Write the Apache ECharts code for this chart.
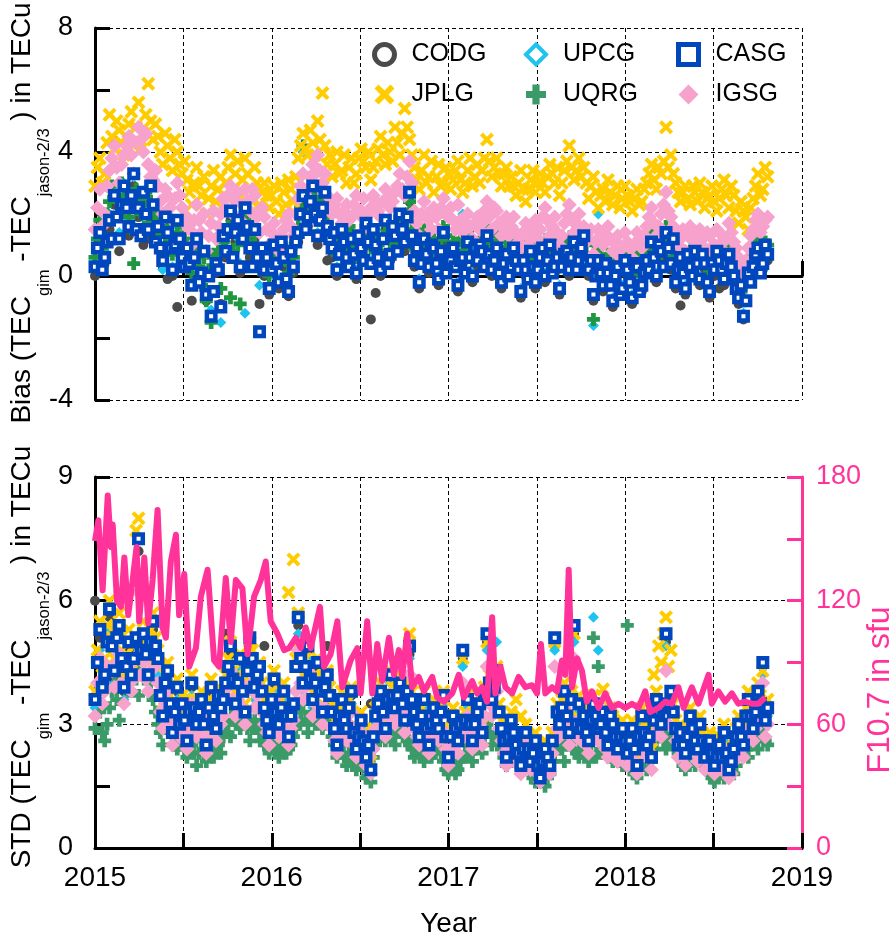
<!DOCTYPE html>
<html><head><meta charset="utf-8">
<script src="https://cdn.jsdelivr.net/npm/echarts/dist/echarts.min.js"></script>
<style>html,body{margin:0;padding:0;background:#fff}#c{width:896px;height:941px}</style>
</head><body><div id="c"></div><script>
// ---- sampling: values from 2015-01-01; dense series every 5 days, sparse ones every 10 days ----
const startYear = 2015;
const denseStepDays = 5;
const sparseStepDays = 10;

// ---- Top panel: Bias (TECu) ----
const biasCODG = [0.0,1.1,0.4,
 1.5,2.3,0.8,2.5,1.3,2.9,1.9,
 1.0,1.2,2.0,
 1.3,0.3,-0.1,0.0,-1.0,0.4,
 0.6,-0.8,0.9,-0.1,-0.8,-1.2,0.1,-0.9,
 0.6,1.8,1.1,0.1,1.9,0.6,1.2,
 -0.9,0.0,-0.6,0.7,-0.4,0.3,-0.65,0.1,
 1.1,2.3,1.6,2.6,1.0,1.9,0.5,
 0.6,0.0,1.2,0.4,0.9,-0.1,0.6,1.4,-1.4,
 -0.55,0.0,1.5,0.5,1.0,1.7,0.8,2.4,
 0.3,-0.4,0.9,0.1,0.6,-0.3,1.1,0.2,
 0.6,-0.5,0.4,0.8,-0.2,0.3,
 0.6,1.0,0.0,0.6,-0.4,0.5,0.1,
 0.3,-0.7,0.0,0.5,-0.4,
 0.4,-0.2,0.7,0.1,-0.6,0.5,0.0,0.8,0.3,1.0,
 0.0,-0.8,0.3,-0.5,-0.1,-1.0,0.1,-0.6,
 0.0,-0.9,0.1,-0.5,
 0.3,0.8,-0.2,0.6,1.1,0.2,-0.4,
 -0.95,-0.6,0.1,0.5,-0.3,0.2,-0.7,0.0,
 -0.4,-0.3,0.5,-0.2,
 -0.9,-1.4,-0.1,
 0.1,0.7,0.2,0.5];
const biasUPCG = [0.4,1.5,0.8,
 2.0,2.8,1.4,3.0,1.8,3.2,2.3,
 2.6,1.6,2.2,
 1.5,0.2,1.3,0.3,1.6,0.7,
 0.8,-0.2,1.1,0.2,-0.5,-1.1,0.5,-1.5,
 0.9,2.0,1.3,0.4,-1.2,1.0,1.4,
 -0.3,0.3,-0.3,0.9,-0.1,0.5,-0.4,0.4,
 1.5,4.0,1.8,2.8,1.4,2.1,1.7,
 1.0,0.3,1.4,0.7,1.1,0.2,1.0,1.6,0.5,
 1.1,0.3,1.7,0.8,1.4,1.9,1.2,2.6,
 0.6,-0.1,1.1,0.4,0.8,0.0,1.3,0.5,
 0.8,-0.2,2.0,1.0,0.1,0.6,
 0.9,1.2,0.3,0.8,-0.1,0.8,0.4,
 0.6,-0.4,0.3,0.7,-0.1,
 0.7,0.1,0.9,0.4,-0.3,0.8,0.3,1.0,0.6,1.2,
 0.3,-1.6,2.0,-0.2,0.2,-0.7,0.4,-0.3,
 0.3,-0.6,0.4,-0.2,
 0.6,1.0,0.1,0.9,1.3,0.5,-0.1,
 0.7,-0.3,0.4,0.7,0.0,0.5,-0.4,0.3,
 0.6,0.0,0.8,0.1,
 -0.6,-1.2,0.2,
 0.4,0.9,0.5,0.8];
const biasUQRG = [0.6,1.2,1.8,0.9,1.2,2.0,
 2.4,2.9,4.3,2.6,2.0,3.0,2.6,2.2,1.9,1.5,0.4,2.8,2.5,2.0,
 2.3,2.7,1.7,2.4,2.1,1.8,
 1.5,1.9,0.9,1.3,1.6,1.1,0.7,1.2,1.4,1.7,0.9,1.2,
 0.6,0.9,0.1,0.5,0.9,0.3,-0.3,0.6,-0.8,0.2,-1.5,0.7,0.3,0.8,-0.4,1.1,
 0.9,1.6,-0.7,0.8,1.4,1.0,-0.9,1.2,1.8,1.4,1.0,1.6,1.3,0.7,
 0.2,0.5,0.8,0.4,0.0,0.7,1.1,0.6,0.4,1.0,0.9,0.5,0.1,0.9,0.6,1.2,
 1.6,2.2,4.2,1.9,2.1,2.6,2.5,2.0,1.8,2.4,2.3,1.9,1.7,1.4,
 1.2,0.9,0.7,1.1,1.5,1.2,1.0,1.6,1.4,1.0,0.6,1.0,1.2,1.4,1.6,1.2,0.9,1.5,
 1.3,1.0,0.8,1.3,1.7,1.4,1.1,1.6,1.5,1.2,1.9,1.6,1.4,2.0,2.4,1.5,
 0.9,1.2,0.5,1.0,1.5,1.1,0.8,1.0,1.2,0.9,0.6,1.2,1.6,1.3,0.9,0.7,
 1.1,0.8,0.6,1.2,1.0,0.8,1.4,1.0,0.5,0.7,0.9,1.1,
 1.2,1.0,1.6,1.1,0.7,1.0,1.3,0.9,0.5,0.8,1.1,0.6,0.8,1.0,
 0.8,0.5,0.2,0.9,0.7,0.5,1.1,0.7,0.4,0.8,
 1.0,0.8,0.5,1.1,1.3,0.6,0.8,1.0,0.3,0.7,1.1,0.6,0.9,1.2,1.4,1.1,1.0,1.3,1.5,1.0,
 0.6,0.4,-1.4,0.6,0.9,0.6,0.3,0.5,0.7,0.4,0.0,0.5,0.8,0.5,0.2,0.7,
 0.6,0.3,0.0,0.5,0.8,0.6,0.3,0.7,
 1.0,1.2,1.5,0.9,0.6,1.0,1.2,1.4,1.6,1.2,0.9,0.6,0.4,0.7,
 0.9,0.5,0.2,0.6,0.8,0.5,1.1,0.8,0.4,0.6,0.8,0.4,0.1,0.5,0.6,0.8,
 0.9,0.6,0.3,0.7,1.0,0.6,0.4,0.1,
 -0.2,-0.5,-0.8,0.0,0.4,0.5,
 0.7,1.0,1.2,0.6,0.8,1.1,1.0];
const biasJPLG = [2.9,3.5,3.8,3.0,3.3,4.3,
 5.2,4.5,4.1,5.0,4.7,4.3,3.9,4.5,
 4.9,5.3,4.2,4.8,5.6,4.1,4.6,5.2,6.2,5.0,4.4,4.9,
 4.5,4.0,3.6,4.6,4.2,3.8,3.4,4.4,4.0,3.6,3.3,3.7,
 3.1,2.7,2.3,3.0,3.5,2.9,2.6,3.2,2.0,2.5,2.9,3.4,2.4,2.8,3.2,2.6,
 3.0,3.5,3.9,2.8,3.3,3.7,2.5,3.1,3.8,3.3,2.8,2.4,3.5,3.0,2.3,2.7,3.0,2.6,
 2.2,2.6,2.9,2.4,2.0,3.0,2.7,2.3,3.1,2.8,2.4,3.2,
 3.8,4.2,4.6,4.1,3.9,4.7,4.3,3.9,5.0,4.4,5.9,4.2,3.6,3.9,
 3.2,3.6,4.0,3.3,3.4,3.9,3.0,3.5,3.8,3.0,3.3,3.8,4.1,3.7,3.5,4.0,3.1,3.5,
 3.7,4.1,4.5,3.9,3.6,4.3,4.0,3.7,4.8,4.3,3.9,4.6,5.4,4.8,4.4,3.9,
 3.5,3.1,2.8,3.4,3.9,3.0,3.2,3.7,2.7,3.2,3.6,2.9,3.0,3.5,3.3,2.8,
 3.1,3.4,3.7,3.1,2.7,3.0,3.4,3.8,2.9,3.2,3.6,3.0,
 3.4,3.8,4.4,3.7,3.2,3.5,3.8,3.3,2.9,3.3,3.5,2.9,3.2,2.9,
 2.6,3.0,3.4,2.8,2.4,2.8,3.1,3.4,2.7,3.0,
 3.3,3.0,2.7,3.2,3.6,3.3,3.0,3.5,2.6,3.0,3.4,3.7,4.2,3.5,3.1,3.4,3.8,3.2,3.5,3.0,
 2.5,2.9,3.2,2.7,2.2,2.6,2.8,2.4,3.1,2.7,2.3,2.6,2.9,2.2,2.5,2.9,
 2.6,2.4,2.1,2.5,2.8,2.3,2.4,2.8,
 3.0,3.3,3.6,3.1,2.8,3.5,3.3,3.7,4.8,3.5,3.9,3.3,3.0,2.7,
 2.4,2.7,2.9,2.5,2.3,2.9,2.7,2.4,3.0,2.7,2.2,2.5,2.6,2.9,2.4,2.1,
 2.5,2.8,3.1,2.6,2.2,2.9,2.6,2.1,
 1.7,2.4,2.1,1.9,1.5,2.2,
 2.5,2.9,3.3,2.6,2.8,3.5,3.2];
const biasIGSG = [1.5,2.2,2.8,1.6,2.0,2.9,
 3.4,3.8,4.2,3.5,3.0,3.6,3.9,4.2,4.5,3.9,3.3,4.3,4.8,4.4,4.0,4.6,3.6,3.2,3.1,3.4,
 2.9,2.4,2.0,2.8,2.6,2.2,1.8,2.5,3.0,2.6,2.2,1.7,
 1.9,1.5,1.0,1.8,2.3,1.8,1.4,2.0,0.8,1.3,1.7,2.1,1.2,1.6,2.0,2.5,
 2.2,2.6,2.9,2.0,2.4,2.7,1.8,2.3,2.8,2.4,2.1,2.8,2.6,1.9,1.4,2.2,1.9,1.5,
 1.0,1.4,1.7,1.2,0.8,1.3,1.5,1.8,2.0,1.6,1.3,2.0,
 2.5,2.9,3.3,2.6,2.8,3.2,3.6,3.3,3.9,3.4,3.0,3.3,2.6,2.3,
 2.0,2.3,2.5,2.0,1.7,2.1,2.3,1.8,1.9,2.3,2.6,2.0,2.1,2.5,1.6,2.0,2.2,2.6,
 2.4,2.1,1.9,2.4,2.8,2.5,2.2,2.4,2.7,2.9,3.3,2.8,2.6,3.2,3.7,3.0,
 2.1,1.7,1.3,2.0,2.4,2.0,1.8,1.5,2.2,1.9,1.5,2.2,2.5,2.0,1.9,2.2,
 1.8,1.5,2.3,1.8,1.4,1.7,2.0,1.6,1.2,1.7,1.9,1.5,
 1.7,2.1,2.4,1.9,1.5,2.2,2.1,1.7,1.3,1.6,1.9,1.3,1.6,1.9,
 1.4,1.1,0.9,1.4,1.7,1.0,1.2,1.5,1.8,1.2,
 1.5,1.9,2.2,1.8,1.3,1.6,1.9,1.4,1.0,1.3,1.7,2.0,2.3,1.8,1.4,1.7,2.0,1.3,1.6,1.1,
 1.2,1.5,0.7,1.1,1.5,1.3,1.0,1.3,1.6,1.2,0.8,1.1,1.3,0.6,0.9,1.4,
 1.1,0.9,0.6,1.0,1.4,1.2,0.9,1.3,
 1.6,1.9,2.2,1.7,1.3,1.6,2.0,2.3,2.7,2.1,1.9,1.6,1.4,1.0,
 1.2,1.5,0.8,1.3,1.6,1.2,1.1,1.4,1.5,1.2,0.9,1.4,1.3,0.8,1.0,1.5,
 1.4,1.1,0.8,1.2,1.7,1.4,1.1,0.9,
 0.6,0.4,0.1,0.5,0.9,1.3,
 1.5,1.8,2.0,1.4,1.6,1.8,1.9];
const biasCASG = [0.3,0.9,1.4,0.2,0.6,1.1,
 1.8,1.2,2.6,1.9,1.2,2.3,2.9,2.2,1.6,2.6,3.3,1.5,2.2,1.3,
 2.7,2.0,1.5,2.9,2.3,1.1,
 1.6,0.9,0.5,1.9,1.4,0.9,0.2,1.0,1.8,1.2,0.6,0.3,
 0.9,0.4,-0.3,0.6,1.2,-0.2,0.1,0.8,-0.6,0.0,-1.3,-0.5,0.4,0.2,-1.0,1.3,
 0.8,1.5,2.1,0.6,1.4,1.8,0.3,1.2,2.2,1.6,0.9,0.3,1.5,0.6,
 -1.8,0.9,0.2,0.6,-0.4,0.2,1.0,0.4,-0.2,1.1,0.6,-0.1,-0.5,0.8,0.3,1.1,
 1.4,2.0,2.6,1.5,1.9,2.4,2.9,2.0,1.3,1.8,2.2,2.7,1.6,1.2,
 0.9,1.4,0.2,0.7,1.5,1.1,0.6,0.3,1.2,0.7,0.1,1.3,0.9,0.5,1.7,1.1,0.4,1.5,
 1.0,0.6,0.2,1.2,1.8,0.4,0.7,1.6,1.3,0.8,2.0,1.5,1.1,1.9,2.7,1.3,
 0.5,0.9,-0.2,0.4,1.2,0.7,0.3,1.0,0.9,0.4,-0.1,0.8,1.4,0.1,0.4,0.5,
 0.9,0.3,-0.3,0.5,0.6,0.1,1.1,0.6,0.0,0.9,0.5,1.0,
 0.8,0.3,1.3,0.7,0.2,0.5,0.9,0.1,-0.2,0.4,0.7,0.0,0.3,0.9,
 0.5,0.2,-0.5,0.5,0.2,-0.1,0.8,0.3,-0.2,0.2,
 0.6,0.9,0.0,0.5,1.0,0.1,0.3,0.6,-0.4,0.3,0.7,0.8,0.2,0.6,1.1,0.2,0.5,0.9,1.3,0.4,
 0.2,0.5,-0.6,0.0,0.5,0.1,-0.3,0.4,0.1,-0.3,-0.8,0.0,0.3,-0.6,-0.4,0.5,
 0.2,-0.2,-0.7,0.4,0.3,-0.5,-0.3,0.1,
 0.5,0.2,1.1,0.6,0.0,1.0,0.8,0.3,1.4,0.9,0.4,1.2,-0.2,0.2,
 0.6,0.1,-0.4,0.7,0.3,0.0,0.8,0.4,-0.1,0.7,0.4,-0.2,-0.5,0.4,0.2,0.8,
 0.5,0.2,-0.1,0.4,0.7,0.3,0.0,-0.4,
 -0.7,-0.3,-1.3,-0.8,0.1,-0.2,
 0.3,0.7,0.9,0.1,0.4,1.0,0.7];

// ---- Bottom panel: STD (TECu) ----
const stdCODG = [6.0,5.1,4.0,
 5.6,4.1,5.2,3.8,4.8,
 4.5,7.2,5.0,4.1,5.3,
 4.4,3.1,4.1,2.8,3.8,
 3.4,2.6,3.9,2.9,3.5,2.5,3.8,2.8,3.3,
 5.2,4.7,3.4,4.5,3.2,4.9,3.8,4.3,
 4.9,2.8,4.0,2.9,3.7,2.7,3.4,
 5.4,3.9,4.8,3.5,4.4,3.2,4.9,
 3.2,2.5,3.5,2.8,3.7,2.4,3.0,2.2,3.5,
 3.1,3.7,2.9,4.1,3.3,3.9,3.0,
 4.7,3.2,2.7,3.5,2.5,3.3,2.9,3.6,
 2.2,3.1,2.6,4.6,
 3.5,2.6,3.2,2.8,
 5.0,3.5,4.2,
 2.9,2.2,3.0,2.5,2.0,2.7,
 2.1,2.5,1.7,2.4,2.0,
 4.9,3.0,3.7,2.8,5.2,3.4,
 3.1,2.6,3.4,2.9,3.2,2.5,2.9,2.4,2.8,
 2.3,2.8,2.0,3.1,2.5,2.2,
 3.5,3.0,5.0,3.7,2.8,
 2.7,2.3,3.1,2.6,2.9,2.2,
 2.5,2.0,2.5,2.7,1.9,2.4,
 3.0,2.5,3.5,2.9,3.7,4.4,3.3];
const stdUPCG = [3.4,4.8,4.4,
 5.3,4.0,5.1,3.6,4.6,
 4.3,6.5,4.8,4.0,5.0,
 4.2,3.0,4.0,2.7,3.6,
 3.2,2.5,3.7,2.8,3.4,2.4,3.6,2.8,3.2,
 3.8,4.5,3.3,4.3,3.1,4.7,3.6,4.1,
 3.2,2.7,3.8,2.8,3.6,2.6,3.3,
 5.2,3.8,4.6,3.4,4.2,3.1,4.0,
 3.1,2.4,3.4,2.7,3.5,2.3,2.9,2.1,1.8,
 3.0,3.6,2.8,4.0,3.2,3.8,2.9,
 4.6,3.1,2.6,3.4,2.4,3.2,2.8,3.5,
 2.1,3.0,2.5,4.4,
 3.4,2.5,3.1,2.7,
 4.8,3.4,5.0,
 2.8,2.1,2.9,2.4,1.9,2.6,
 2.0,2.5,1.6,2.3,1.9,
 4.8,2.9,3.6,2.7,5.0,3.3,
 3.0,2.5,5.6,4.8,3.1,2.4,2.8,2.3,2.7,
 2.2,2.7,1.9,3.0,2.4,2.1,
 3.4,2.9,4.9,3.6,2.7,
 2.6,2.2,3.0,2.5,2.8,2.1,
 2.5,1.9,2.4,2.6,1.8,2.3,
 2.8,2.4,3.4,2.8,3.6,4.2,3.2];
const stdUQRG = [2.9,3.6,3.3,2.8,2.6,3.0,
 3.4,3.8,4.2,3.6,3.1,4.0,4.5,4.1,3.8,4.2,
 4.4,4.1,3.7,4.3,4.6,4.2,4.0,3.8,3.6,3.3,
 3.0,2.8,2.5,2.9,3.2,2.9,2.7,2.5,2.4,2.9,
 2.7,2.4,2.2,2.5,2.5,2.3,2.0,2.3,2.6,2.3,2.1,2.6,2.4,2.2,2.7,2.5,2.3,2.7,
 3.0,2.8,2.7,3.1,3.3,3.0,2.9,3.0,3.2,2.9,2.6,2.9,3.1,2.9,2.8,2.6,
 2.5,2.6,2.3,2.5,2.7,2.4,2.2,2.5,2.6,2.3,2.4,2.5,2.7,2.9,
 3.0,3.3,3.5,3.1,2.8,3.1,3.3,3.0,3.1,3.2,2.9,3.1,3.4,3.0,
 2.7,2.5,2.2,2.4,2.5,2.2,2.0,2.3,2.6,2.1,1.9,2.1,2.3,1.9,1.7,1.9,1.6,2.2,
 2.5,2.7,3.0,2.8,2.6,2.7,2.9,2.7,2.5,2.8,3.1,2.9,2.7,2.6,
 2.5,2.4,2.2,2.4,2.6,2.3,2.1,2.3,2.4,2.2,2.3,2.4,2.5,2.3,2.1,1.9,
 1.8,2.0,2.1,1.8,1.9,2.1,2.2,2.3,
 2.5,2.3,2.1,2.4,2.6,2.5,2.3,2.7,
 3.0,2.8,2.5,2.7,2.8,2.6,
 2.4,2.2,2.0,2.2,2.3,2.2,2.1,2.3,2.5,2.3,2.2,2.0,
 1.9,1.7,1.6,1.8,2.0,1.7,1.5,1.7,1.8,2.1,
 2.3,2.5,2.6,2.4,2.1,2.5,2.7,2.6,2.4,2.3,2.2,2.3,
 2.5,2.3,2.1,2.3,5.1,2.2,4.4,2.4,2.3,2.4,2.6,2.3,2.1,2.3,2.4,2.2,2.0,2.1,
 5.4,1.9,2.0,1.8,1.7,1.9,2.2,2.0,1.9,2.2,2.1,2.4,
 2.6,2.8,2.9,2.6,2.4,2.6,2.8,2.7,2.5,2.3,
 2.2,2.0,1.9,2.2,2.4,2.2,2.0,2.1,2.3,2.0,2.1,1.9,
 1.9,1.7,1.6,1.8,2.0,1.8,1.7,1.9,2.1,1.9,1.8,2.0,
 2.3,2.5,2.6,2.4,2.2,2.5,2.7,2.6,2.4,2.7,2.9,2.6,2.5];
const stdJPLG = [3.8,4.8,5.5,4.2,4.6,5.4,
 6.0,5.1,4.6,5.3,5.7,4.8,4.2,4.7,5.3,4.5,
 4.9,7.7,8.0,5.1,5.5,4.9,4.5,5.3,5.7,5.1,
 4.8,3.9,3.5,4.2,4.5,3.7,3.1,3.5,4.1,3.3,
 3.7,3.3,2.9,3.6,4.2,3.6,3.2,3.5,3.8,3.2,2.8,3.6,4.1,3.4,3.1,3.9,3.6,3.8,
 4.2,4.6,5.0,4.3,3.8,4.2,4.7,4.0,3.5,4.5,5.0,4.8,4.1,4.4,4.5,4.0,
 3.6,3.3,3.0,3.8,4.3,3.5,3.2,3.6,4.0,3.4,6.2,3.4,7.0,4.6,
 5.7,4.8,4.2,4.6,5.0,4.3,3.8,4.2,4.6,4.0,3.5,4.1,4.3,3.9,
 3.5,3.1,2.7,3.4,3.8,3.3,3.1,3.6,3.9,3.0,2.6,2.9,3.3,2.8,2.4,2.7,2.1,2.9,
 3.4,3.7,4.0,3.5,3.1,3.8,4.3,3.9,3.6,3.9,4.2,3.7,3.3,4.0,
 5.2,3.8,3.5,3.2,2.9,3.4,3.8,3.1,2.7,3.2,3.6,3.3,3.1,3.5,3.8,2.9,
 2.4,2.9,3.4,3.1,2.8,3.2,4.6,3.3,
 3.7,3.2,2.8,3.2,3.5,3.7,3.0,3.9,
 5.0,4.2,3.8,4.1,4.4,3.5,
 3.1,2.8,2.4,2.9,3.3,3.0,3.6,2.5,3.2,2.6,3.0,2.6,
 2.3,2.5,2.8,2.2,1.9,2.3,2.6,2.4,2.2,2.8,
 5.0,3.5,3.2,3.6,4.0,3.4,3.0,3.8,5.2,3.2,3.7,3.1,
 3.4,3.0,2.8,3.3,3.7,3.4,3.1,3.2,3.85,3.0,2.7,3.4,3.2,2.9,2.6,2.9,3.1,2.8,
 2.5,2.8,3.1,2.6,2.2,2.9,3.4,3.0,2.7,2.9,2.4,4.2,
 3.8,4.9,4.5,5.2,5.6,4.4,4.8,3.5,3.1,2.7,
 3.0,2.7,2.5,2.9,3.4,3.1,2.8,2.6,3.2,2.8,2.4,2.7,
 2.8,2.5,2.2,2.4,2.7,2.4,3.0,2.5,2.1,2.3,2.6,2.9,
 3.2,2.9,2.7,3.4,3.8,3.4,3.1,3.5,4.0,3.7,4.3,3.3,3.6];
const stdIGSG = [3.2,4.0,4.6,3.5,3.8,4.4,
 5.0,4.3,3.9,4.5,4.7,4.0,3.5,3.9,4.4,3.8,
 4.1,4.6,6.2,4.2,4.5,4.1,3.8,4.3,4.7,4.4,
 4.0,3.3,2.9,3.5,3.8,3.0,2.5,3.0,3.4,2.7,
 3.1,2.8,2.4,2.9,3.5,3.0,2.7,2.9,3.2,2.7,2.3,3.0,3.4,2.8,2.6,3.2,3.0,3.2,
 3.6,3.9,4.3,3.6,3.2,3.6,4.0,3.4,3.0,3.8,4.4,4.0,3.4,3.7,3.9,3.3,
 3.0,2.8,2.5,3.1,3.6,2.9,2.7,3.0,3.3,2.8,2.5,2.9,3.1,3.8,
 4.8,4.0,3.6,3.9,4.3,3.6,3.2,3.5,4.0,3.4,3.0,3.4,3.7,3.3,
 2.9,2.6,2.3,2.8,3.2,2.7,2.6,3.0,3.3,2.5,2.2,2.4,2.8,2.3,2.0,2.2,1.8,2.4,
 2.9,3.1,3.4,2.9,2.7,3.2,3.7,3.2,3.0,3.2,3.5,3.1,2.8,3.3,
 4.2,3.2,2.9,2.7,2.5,2.8,3.2,2.6,2.3,2.6,3.0,2.7,2.6,2.9,3.3,2.4,
 2.0,2.4,2.8,2.5,2.3,2.6,4.0,2.8,
 3.2,2.7,2.4,2.7,2.9,3.0,2.5,3.2,
 4.4,3.5,3.2,3.4,3.8,2.9,
 2.6,2.3,2.0,2.4,2.7,2.4,2.2,2.0,1.8,2.1,2.5,2.1,
 1.9,2.0,2.3,1.8,1.6,1.9,2.1,1.9,1.8,2.3,
 4.4,2.9,2.7,3.0,3.4,2.8,2.5,3.1,4.6,2.7,3.1,2.6,
 2.8,2.5,2.3,2.7,3.1,2.8,2.6,2.6,2.9,2.4,2.2,2.7,2.6,2.3,2.1,2.4,2.5,2.3,
 2.0,2.3,2.6,2.1,1.8,2.4,2.8,2.4,2.2,2.3,1.9,2.7,
 3.2,2.9,2.7,3.0,4.3,3.0,3.4,2.9,2.6,2.2,
 2.4,2.2,2.0,2.4,2.8,2.5,2.3,2.1,2.6,2.3,1.9,2.2,
 2.2,2.0,1.8,1.9,2.2,1.9,2.4,2.0,1.7,1.8,2.1,2.4,
 2.6,2.4,2.2,2.8,3.2,2.8,2.6,2.9,3.4,3.1,4.0,2.7,3.0];
const stdCASG = [3.6,4.5,5.3,3.9,4.2,5.0,
 5.8,4.9,4.3,5.1,5.4,4.6,3.9,4.4,5.0,4.2,
 4.6,5.1,7.5,4.8,5.2,4.7,4.2,5.0,5.5,4.9,
 4.6,3.7,3.2,4.0,4.3,3.5,2.8,3.3,3.9,3.0,
 3.5,3.1,2.6,3.3,4.0,3.4,3.0,3.3,3.6,3.0,2.5,3.4,3.9,3.2,2.9,3.7,3.4,3.6,
 4.0,4.4,4.9,4.1,3.5,4.0,4.6,3.8,3.3,4.3,5.1,4.6,3.9,4.2,4.4,3.8,
 3.4,3.1,2.8,3.6,4.1,3.3,3.0,3.4,3.8,3.2,2.7,3.2,3.5,4.4,
 5.6,4.6,4.0,4.4,4.9,4.1,3.6,4.0,4.5,3.8,3.3,3.9,4.2,3.7,
 3.3,2.9,2.5,3.2,3.6,3.1,2.9,3.4,3.8,2.8,2.4,2.7,3.1,2.6,2.2,2.5,1.9,2.7,
 3.2,3.5,3.8,3.3,2.9,3.6,4.2,3.7,3.4,3.7,4.0,3.5,3.1,3.8,
 4.9,3.6,3.3,3.0,2.7,3.2,3.6,2.9,2.5,3.0,3.4,3.1,2.9,3.3,3.7,2.7,
 2.2,2.7,3.2,2.9,2.6,3.0,4.8,3.1,
 3.6,3.0,2.6,3.0,3.3,3.5,2.8,3.7,
 5.2,4.0,3.6,3.9,4.3,3.3,
 2.9,2.6,2.2,2.7,3.1,2.8,2.5,2.3,2.0,2.4,2.8,2.4,
 2.1,2.3,2.6,2.0,1.7,2.1,2.4,2.2,2.0,2.6,
 5.1,3.3,3.0,3.4,3.8,3.2,2.8,3.6,5.4,3.0,3.5,2.9,
 3.2,2.8,2.6,3.1,3.5,3.2,2.9,3.0,3.3,2.8,2.5,3.2,3.0,2.7,2.4,2.7,2.9,2.6,
 2.3,2.6,2.9,2.4,2.0,2.7,3.2,2.8,2.5,2.7,2.2,3.1,
 3.6,3.3,3.0,3.4,5.2,3.5,3.8,3.3,2.9,2.5,
 2.8,2.5,2.3,2.7,3.2,2.9,2.6,2.4,3.0,2.6,2.2,2.5,
 2.6,2.3,2.0,2.2,2.5,2.2,2.8,2.3,1.9,2.1,2.4,2.7,
 3.0,2.7,2.5,3.2,3.6,3.2,2.9,3.3,3.8,3.5,4.5,3.1,3.4];

// ---- F10.7 (sfu) ----
const f107Years = [2015.000,2015.019,2015.043,2015.072,2015.090,2015.100,2015.124,2015.147,2015.166,2015.188,
 2015.213,2015.235,2015.250,2015.279,2015.301,2015.326,2015.354,2015.382,2015.401,2015.429,
 2015.458,2015.476,2015.505,2015.533,2015.571,2015.599,2015.637,2015.674,2015.702,2015.740,
 2015.768,2015.797,2015.834,2015.863,2015.900,2015.938,2015.966,2015.994,2016.032,2016.070,
 2016.098,2016.136,2016.164,2016.192,2016.220,2016.273,2016.296,2016.333,2016.371,2016.399,
 2016.446,2016.484,2016.503,2016.540,2016.569,2016.597,2016.625,2016.663,2016.691,2016.719,
 2016.738,2016.766,2016.795,2016.832,2016.861,2016.908,2016.936,2016.974,
 2017.021,2017.058,2017.087,2017.134,2017.162,2017.190,2017.218,2017.247,2017.265,2017.294,
 2017.322,2017.360,2017.397,2017.435,2017.473,2017.501,2017.523,2017.548,2017.586,2017.614,
 2017.642,2017.661,2017.680,2017.699,2017.727,2017.755,2017.783,2017.812,2017.849,2017.887,
 2017.925,2017.962,2018.000,2018.038,2018.075,2018.113,2018.141,2018.188,2018.226,2018.264,
 2018.301,2018.330,2018.377,2018.414,2018.471,2018.490,2018.527,2018.565,2018.603,2018.640,
 2018.678,2018.716,2018.753,2018.791];
const f107Values = [149,159,125,171,146,157,120,117,141,113,
 130,146,110,141,109,130,164,107,102,139,
 152,113,133,88,97,122,135,91,88,131,
 100,130,126,94,122,130,139,110,104,96,
 97,102,97,107,97,117,88,94,110,78,
 91,97,75,110,75,99,81,102,84,96,
 83,104,78,83,76,83,73,71,
 75,84,73,81,75,78,71,112,75,88,
 78,75,83,78,79,75,99,75,78,76,
 91,84,135,78,92,86,71,76,68,75,
 68,70,68,70,68,76,66,68,71,70,
 78,68,78,70,84,70,76,71,75,70,
 71,70,70,73];

// ---- axis ticks / labels / names ----
const yearTicks = [2015, 2016, 2017, 2018, 2019];
const seriesNames = ['CODG','UPCG','UQRG','JPLG','IGSG','CASG'];
const sparseSeries = ['CODG','UPCG'];

const FONT = '"Liberation Sans", Arial, sans-serif';
const xPath = 'path://M0,2 L2,0 L5,3 L8,0 L10,2 L7,5 L10,8 L8,10 L5,7 L2,10 L0,8 L3,5 Z';
const plusPath = 'path://M3.2,0 H6.8 V3.2 H10 V6.8 H6.8 V10 H3.2 V6.8 H0 V3.2 H3.2 Z';
const PINK_LINE = '#ff3399';

const marker = {
  CODG: {symbol:'circle', size:10, itemStyle:{color:'#4a4a4a', opacity:1}},
  UPCG: {symbol:'diamond', size:11, itemStyle:{color:'#1ec3ef', opacity:1}},
  UQRG: {symbol:plusPath, size:13, itemStyle:{color:'#259a4e', opacity:1}},
  JPLG: {symbol:xPath, size:14, itemStyle:{color:'#ffcc00', opacity:1}},
  IGSG: {symbol:'diamond', size:15, itemStyle:{color:'#f7a1cd', opacity:1}},
  CASG: {symbol:'rect', size:8.5, itemStyle:{color:'#ffffff', borderColor:'#0046bd', borderWidth:4.5, opacity:1}}
};
const topData = {CODG:biasCODG, UPCG:biasUPCG, UQRG:biasUQRG, JPLG:biasJPLG, IGSG:biasIGSG, CASG:biasCASG};
const botData = {CODG:stdCODG, UPCG:stdUPCG, UQRG:stdUQRG, JPLG:stdJPLG, IGSG:stdIGSG, CASG:stdCASG};

function pairs(vals, step){ return vals.map((v,i)=>[startYear + i*step/365.25, v]); }

const series = [];
[[0, topData, '#1f9640'], [1, botData, '#3b9b68']].forEach(([gi, dataSet, green]) => {
  seriesNames.forEach(n => {
    const m = marker[n];
    const step = sparseSeries.indexOf(n) >= 0 ? sparseStepDays : denseStepDays;
    series.push({name:n, type:'scatter', xAxisIndex:gi, yAxisIndex:gi, symbol:m.symbol, symbolSize:m.size,
      itemStyle:Object.assign({}, m.itemStyle, n==='UQRG'?{color:green}:{}),
      emphasis:{disabled:true}, data:pairs(dataSet[n], step), silent:true});
  });
});
series.push({name:'F10.7', type:'line', xAxisIndex:1, yAxisIndex:2, showSymbol:false, z:10,
  lineStyle:{color:PINK_LINE, width:6, join:'round'}, emphasis:{disabled:true},
  data:f107Years.map((y,i)=>[y, f107Values[i]]), silent:true});

function xAxisCfg(grid, showLabels){
  return {
    gridIndex:grid, type:'value', min:2015, max:2019, interval:0.5,
    axisLine:{lineStyle:{color:'#000', width:3}},
    axisTick:{inside:true, length:15, lineStyle:{color:'#000', width:3}},
    axisLabel:{show:showLabels, fontSize:28, fontFamily:FONT, color:'#000', margin:16,
      formatter:v => (yearTicks.indexOf(v) >= 0 ? String(v) : '')},
    splitLine:{show:true, lineStyle:{color:'#000', width:1, type:[4,3]}},
    name: showLabels ? 'Year' : '', nameLocation:'middle', nameGap:62,
    nameTextStyle:{fontSize:28, fontFamily:FONT, color:'#000'}
  };
}
function yLeftCfg(grid, min, max, interval){
  return {
    gridIndex:grid, type:'value', min:min, max:max, interval:interval,
    axisLine:{show:true, lineStyle:{color:'#000', width:3}},
    axisTick:{show:true, inside:true, length:15, lineStyle:{color:'#000', width:3}},
    minorTick:{show:true, splitNumber:2, length:15, lineStyle:{color:'#000', width:3}},
    axisLabel:{fontSize:27, fontFamily:FONT, color:'#000', margin:22},
    splitLine:{show:true, lineStyle:{color:'#000', width:1, type:[4,3]}}
  };
}
const rich = {
  m:{fontSize:28, fontFamily:FONT, color:'#000', lineHeight:29, verticalAlign:'top'},
  s:{fontSize:16.5, fontFamily:FONT, color:'#000', lineHeight:17, verticalAlign:'top', padding:[27,0,0,0]}
};
function yTitle(prefix){ return '{m|' + prefix + ' (TEC}{s|gim}{m| -TEC}{s|jason-2/3}{m| ) in TECu}'; }

const legendBase = {orient:'vertical', itemGap:15, itemWidth:20, itemHeight:20, selectedMode:false,
  textStyle:{fontSize:25, fontFamily:FONT, color:'#000', padding:[0,0,0,12]}};
const legends = [
  Object.assign({}, legendBase, {left:367, top:37, data:[
    {name:'CODG', icon:'circle', itemStyle:{color:'#ffffff', borderColor:'#4a4a4a', borderWidth:5}},
    {name:'JPLG', icon:xPath, itemStyle:{color:'#ffcc00'}}]}),
  Object.assign({}, legendBase, {left:519, top:37, data:[
    {name:'UPCG', icon:'diamond', itemStyle:{color:'#ffffff', borderColor:'#1ec3ef', borderWidth:4}},
    {name:'UQRG', icon:plusPath, itemStyle:{color:'#3b9b68'}}]}),
  Object.assign({}, legendBase, {left:671, top:37, data:[
    {name:'CASG', icon:'rect', itemStyle:{color:'#ffffff', borderColor:'#0046bd', borderWidth:5}},
    {name:'IGSG', icon:'diamond', itemStyle:{color:'#f7a1cd'}}]})
];

const chart = echarts.init(document.getElementById('c'), null, {renderer:'canvas'});
chart.setOption({
  animation:false,
  backgroundColor:'#ffffff',
  legend:legends,
  grid:[
    {left:95, right:94, top:28, height:372},
    {left:95, right:94, top:477, height:371}
  ],
  xAxis:[xAxisCfg(0,false), xAxisCfg(1,true)],
  yAxis:[
    yLeftCfg(0,-4,8,4),
    yLeftCfg(1,0,9,3),
    {gridIndex:1, type:'value', position:'right', min:0, max:180, interval:60,
      axisLine:{show:true, lineStyle:{color:PINK_LINE, width:3}},
      axisTick:{show:true, inside:true, length:15, lineStyle:{color:PINK_LINE, width:3}},
      minorTick:{show:true, splitNumber:2, length:15, lineStyle:{color:PINK_LINE, width:3}},
      axisLabel:{fontSize:27, fontFamily:FONT, color:PINK_LINE, margin:14},
      splitLine:{show:false}}
  ],
  graphic:[
    {type:'text', x:23, y:213, rotation:Math.PI/2, silent:true,
      style:{text:yTitle('Bias'), rich:rich, align:'center', verticalAlign:'middle'}},
    {type:'text', x:23, y:657, rotation:Math.PI/2, silent:true,
      style:{text:yTitle('STD'), rich:rich, align:'center', verticalAlign:'middle'}},
    {type:'text', x:880, y:690, rotation:Math.PI/2, silent:true,
      style:{text:'F10.7 in sfu', fontSize:32, fontFamily:FONT, fill:PINK_LINE, align:'center', verticalAlign:'middle'}}
  ],
  series:series
});
</script></body></html>
